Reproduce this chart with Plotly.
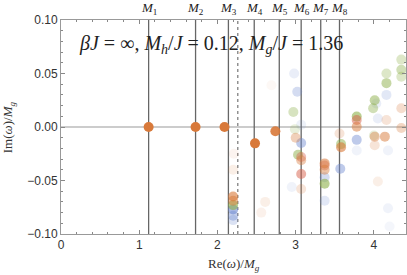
import plotly.graph_objects as go

# Vertical reference lines (Re(omega)/M_g)
m_labels = ["1", "2", "3", "4", "5", "6", "7", "8"]
m_positions = [1.12, 1.72, 2.14, 2.47, 2.79, 3.07, 3.32, 3.56]
dashed_position = 2.26

# Orange series
orange_re = [1.12, 1.72, 2.09, 2.48, 2.74, 2.20, 2.20, 2.20, 2.21, 2.69, 2.61, 2.56,
             3.00, 3.07, 3.07, 3.37, 3.37, 3.56, 3.58, 3.78, 4.01, 4.14, 4.01, 4.05,
             4.16, 4.35, 4.35]
orange_im = [0.0, 0.0, 0.0, -0.0153, -0.004, -0.065, -0.069, -0.040, -0.025, 0.039, -0.070, -0.080,
             -0.010, -0.031, -0.058, -0.034, -0.040, -0.006, -0.019, 0.0003, -0.009, -0.009, -0.017, -0.051,
             0.0066, 0.0176, -0.001]
orange_alpha = [1, 1, 1, 1, 0.9, 0.6, 0.5, 0.12, 0.08, 0.05, 0.12, 0.1,
                0.35, 0.4, 0.2, 0.55, 0.45, 0.2, 0.6, 0.5, 0.4, 0.5, 0.2, 0.12,
                0.2, 0.25, 0.3]

# Red series
red_re = [3.07, 3.07, 3.78, 3.37]
red_im = [-0.028, -0.044, 0.0066, -0.036]
red_alpha = [0.4, 0.5, 0.5, 0.4]

# Green series
green_re = [2.20, 2.97, 2.99, 3.03, 3.37, 3.58, 3.78, 4.01, 3.99, 4.16, 4.16, 4.35, 4.35, 4.35, 4.00]
green_im = [-0.073, 0.014, -0.002, -0.026, -0.053, -0.016, 0.0097, 0.025, 0.0176, 0.050, 0.041,
            0.063, 0.0535, 0.047, -0.008]
green_alpha = [0.6, 0.35, 0.2, 0.5, 0.6, 0.5, 0.6, 0.5, 0.4, 0.3, 0.5, 0.3, 0.4, 0.3, 0.2]

# Blue series
blue_re = [2.20, 2.20, 2.20, 2.98, 3.02, 3.07, 3.07, 2.95, 3.37, 3.37, 3.57, 3.78, 3.78,
           4.03, 4.16, 4.05, 4.18, 4.20, 4.18]
blue_im = [-0.077, -0.083, -0.087, 0.050, 0.033, 0.002, -0.015, -0.056, -0.047, -0.069, -0.039,
           -0.012, -0.022, 0.022, 0.030, 0.008, -0.076, -0.093, -0.022]
blue_alpha = [0.6, 0.4, 0.25, 0.15, 0.3, 0.12, 0.45, 0.1, 0.3, 0.2, 0.45, 0.45, 0.1,
              0.15, 0.2, 0.15, 0.1, 0.08, 0.1]

x_ticks = [0, 1, 2, 3, 4]
y_ticks = [-0.10, -0.05, 0.00, 0.05, 0.10]
y_tick_text = ["\u22120.10", "\u22120.05", "0.00", "0.05", "0.10"]

fig = go.Figure()

def add_series(re, im, alpha, color):
    fig.add_trace(go.Scatter(
        x=re, y=im, mode="markers",
        marker=dict(size=10, color=color, opacity=alpha, line=dict(width=0)),
        showlegend=False, hoverinfo="skip", cliponaxis=True))

add_series(blue_re, blue_im, blue_alpha, "#6F8AD0")
add_series(green_re, green_im, green_alpha, "#8DB04A")
add_series(red_re, red_im, red_alpha, "#D8604A")
add_series(orange_re, orange_im, orange_alpha, "#D8793A")

shapes = []
# zero line
shapes.append(dict(type="line", xref="paper", yref="y", x0=0, x1=1, y0=0, y1=0,
                   line=dict(color="#999999", width=1), layer="below"))
for xm in m_positions:
    shapes.append(dict(type="line", xref="x", yref="paper", x0=xm, x1=xm, y0=0, y1=1,
                       line=dict(color="#666666", width=1.3), layer="below"))
shapes.append(dict(type="line", xref="x", yref="paper", x0=dashed_position, x1=dashed_position,
                   y0=0, y1=1, line=dict(color="#777777", width=1.2, dash="dot"), layer="below"))

annotations = []
for lab, xm in zip(m_labels, m_positions):
    annotations.append(dict(x=xm, y=1, xref="x", yref="paper", yanchor="bottom", xanchor="center",
                            yshift=1, showarrow=False,
                            text="<i>M</i><sub>" + lab + "</sub>",
                            font=dict(family="Liberation Serif", size=13, color="#222222")))
annotations.append(dict(x=0.045, y=0.885, xref="paper", yref="paper", xanchor="left", yanchor="middle",
                        showarrow=False,
                        text="<i>\u03b2J</i> = \u221e, <i>M<sub>h</sub></i>/<i>J</i> = 0.12, <i>M<sub>g</sub></i>/<i>J</i> = 1.36",
                        font=dict(family="Liberation Serif", size=20, color="#222222")))
annotations.append(dict(x=0.5, y=-0.095, xref="paper", yref="paper", xanchor="center", yanchor="top",
                        showarrow=False,
                        text="Re(<i>\u03c9</i>)/<i>M<sub>g</sub></i>",
                        font=dict(family="Liberation Serif", size=13, color="#333333")))
annotations.append(dict(x=-0.153, y=0.5, xref="paper", yref="paper", xanchor="center", yanchor="middle",
                        showarrow=False, textangle=-90,
                        text="Im(<i>\u03c9</i>)/<i>M<sub>g</sub></i>",
                        font=dict(family="Liberation Serif", size=13, color="#333333")))

fig.update_layout(
    width=407, height=275,
    margin=dict(l=61, r=1, t=20, b=41, autoexpand=False),
    paper_bgcolor="white", plot_bgcolor="white",
    shapes=shapes, annotations=annotations,
    xaxis=dict(range=[0, 4.41], tickvals=x_ticks, ticktext=[str(v) for v in x_ticks],
               ticks="inside", ticklen=4, tickcolor="#888888", automargin=False,
               minor=dict(dtick=0.2, ticks="inside", ticklen=2, tickcolor="#888888"),
               showgrid=False, zeroline=False, showline=True, linecolor="#999999", linewidth=1,
               mirror="ticks",
               tickfont=dict(family="Liberation Sans", size=12, color="#333333")),
    yaxis=dict(range=[-0.1, 0.1], tickvals=y_ticks, ticktext=y_tick_text,
               ticks="inside", ticklen=4, tickcolor="#888888", automargin=False,
               minor=dict(dtick=0.01, ticks="inside", ticklen=2, tickcolor="#888888"),
               showgrid=False, zeroline=False, showline=True, linecolor="#999999", linewidth=1,
               mirror="ticks",
               tickfont=dict(family="Liberation Sans", size=12, color="#333333")),
)

fig.write_html("out.html", config={"displayModeBar": False},
               post_script="document.body.style.margin='0';")
